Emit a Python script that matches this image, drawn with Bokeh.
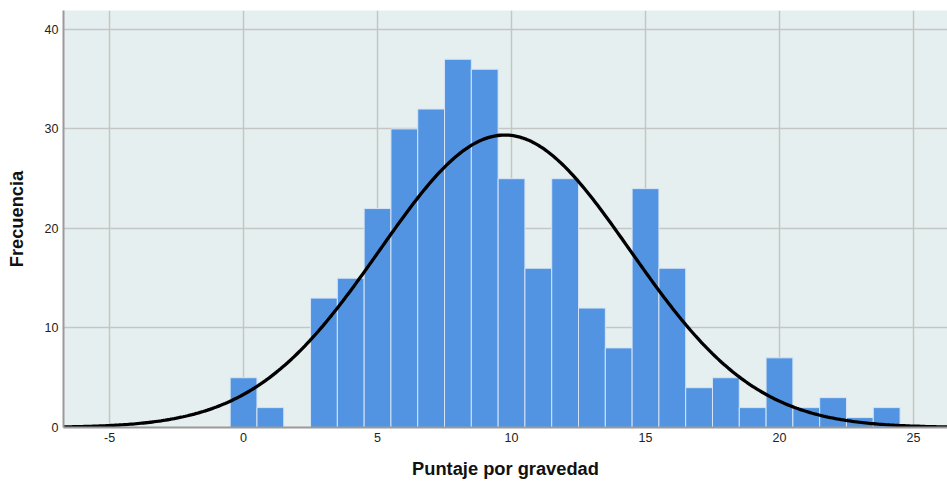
import numpy as np
from bokeh.plotting import figure
from bokeh.models import FixedTicker, ColumnDataSource, CustomJSTickFormatter
from bokeh.embed import file_html
from bokeh.resources import INLINE

# Histogram bins (bin centres, width 1) and frequencies
bin_centers = [0, 1, 3, 4, 5, 6, 7, 8, 9, 10, 11, 12, 13, 14, 15, 16, 17, 18, 19, 20, 21, 22, 23, 24]
frequencies = [5, 2, 13, 15, 22, 30, 32, 37, 36, 25, 16, 25, 12, 8, 24, 16, 4, 5, 2, 7, 2, 3, 1, 2]
bin_width = 1.0

# Fitted normal curve parameters
curve_mean = 9.75
curve_sd = 4.67

x_ticks = [-5, 0, 5, 10, 15, 20, 25]
y_ticks = [0, 10, 20, 30, 40]

n_total = sum(frequencies)

p = figure(width=947, height=481, output_backend="svg", toolbar_location=None,
           x_range=(-6.72, 26.27), y_range=(0, 41.9),
           min_border_left=63, min_border_right=0, min_border_top=10, min_border_bottom=53)
p.background_fill_color = "#e6eff0"
p.border_fill_color = "white"
p.outline_line_color = None

src = ColumnDataSource(dict(x=bin_centers, top=frequencies))
p.vbar(x="x", top="top", width=bin_width, bottom=0, source=src,
       fill_color="#5294e2", line_color="#d5e4f5", line_width=1)

xs = np.linspace(-6.72, 26.27, 400)
ys = n_total * bin_width / (curve_sd * np.sqrt(2 * np.pi)) * np.exp(-0.5 * ((xs - curve_mean) / curve_sd) ** 2)
p.line(xs, ys, line_color="black", line_width=3.3)

fmt = CustomJSTickFormatter(code="return tick.toString();")
for ax in (p.xaxis, p.yaxis):
    ax.major_tick_line_color = None
    ax.minor_tick_line_color = None
    ax.major_tick_out = 0
    ax.major_tick_in = 0
    ax.minor_tick_out = 0
    ax.minor_tick_in = 0
    ax.axis_line_color = "#9a9a9a"
    ax.axis_line_width = 2
    ax.formatter = fmt
    ax.major_label_text_font = "Liberation Sans"
    ax.major_label_text_font_size = "12.5px"
    ax.major_label_text_color = "#222222"
    ax.axis_label_text_font = "Liberation Sans"
    ax.axis_label_text_font_size = "18.3px"
    ax.axis_label_text_font_style = "bold"
    ax.axis_label_text_color = "#111111"

p.xaxis.ticker = FixedTicker(ticks=x_ticks)
p.yaxis.ticker = FixedTicker(ticks=y_ticks)
p.xaxis.major_label_standoff = 5
p.yaxis.major_label_standoff = 5
p.xaxis.axis_label = "Puntaje por gravedad"
p.yaxis.axis_label = "Frecuencia"
p.xaxis.axis_label_standoff = 13
p.yaxis.axis_label_standoff = 15

p.grid.grid_line_color = "#c4c6c6"
p.grid.grid_line_width = 1.5
p.xgrid.ticker = FixedTicker(ticks=x_ticks)
p.ygrid.ticker = FixedTicker(ticks=y_ticks)

open("out.html", "w").write(file_html(p, INLINE))
